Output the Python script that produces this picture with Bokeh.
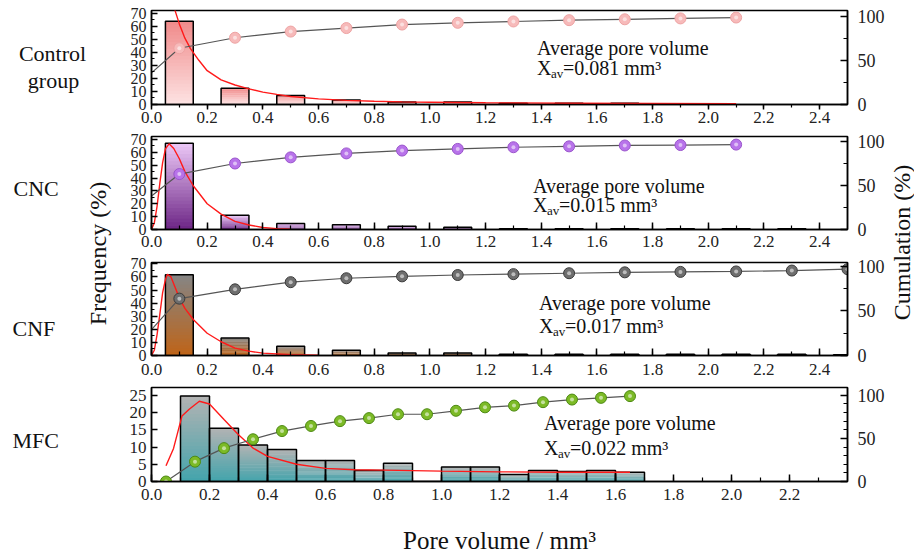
import math
from bokeh.plotting import figure
from bokeh.models import (Range1d, LinearAxis, SingleIntervalTicker,
                          PrintfTickFormatter, Label)
from bokeh.layouts import row, column
from bokeh.embed import file_html
from bokeh.resources import INLINE

FONT = "Liberation Serif"

# ------------------------------------------------------------------ data
row_names = ["Control group", "CNC", "CNF", "MFC"]
avg_volume = ["0.081", "0.015", "0.017", "0.022"]

ctrl_bar_x = [0.1, 0.3, 0.5, 0.7, 0.9, 1.1, 1.3, 1.5, 1.7]
ctrl_freq = [64, 12.5, 7, 3.5, 2, 2, 1, 1, 1]
ctrl_cum_x = [0.1, 0.3, 0.5, 0.7, 0.9, 1.1, 1.3, 1.5, 1.7, 1.9, 2.1]
ctrl_cum = [64, 76, 83, 87, 91, 93, 94.5, 96, 97, 98, 99]
ctrl_cum_start = 36
ctrl_fit_x = [0.08, 0.085, 0.10, 0.12, 0.14, 0.17, 0.20, 0.25, 0.30, 0.35, 0.40,
              0.45, 0.50, 0.60, 0.70, 0.80, 0.90, 1.00, 1.20, 1.50, 1.80, 2.10]
ctrl_fit_y = [80, 72, 62, 51, 43, 34, 26, 19, 15, 12, 9.5,
              7.8, 6.2, 4.3, 3.2, 2.5, 2.0, 1.7, 1.3, 1.0, 0.8, 0.6]

cnc_bar_x = [0.1, 0.3, 0.5, 0.7, 0.9, 1.1, 1.3, 1.5, 1.7, 1.9, 2.1, 2.3]
cnc_freq = [67, 11, 4.7, 3.7, 2.6, 1.8, 0.6, 0.5, 0.5, 0.5, 0.5, 0.5]
cnc_cum_x = [0.1, 0.3, 0.5, 0.7, 0.9, 1.1, 1.3, 1.5, 1.7, 1.9, 2.1]
cnc_cum = [63, 75, 82, 86.5, 89.7, 91.6, 93.5, 94.5, 95.5, 96, 96.5]
cnc_cum_start = 38
cnc_fit_x = [0.0, 0.01, 0.02, 0.03, 0.04, 0.05, 0.063, 0.08, 0.10, 0.12, 0.15,
             0.20, 0.25, 0.30, 0.35, 0.40, 0.45, 0.50]
cnc_fit_y = [0, 5, 18, 36, 52, 62.7, 66.6, 63, 55, 45, 34,
             20, 12, 6.3, 3.5, 1.6, 0.7, 0.3]

cnf_bar_x = [0.1, 0.3, 0.5, 0.7, 0.9, 1.1, 1.3, 1.5, 1.7, 1.9, 2.1, 2.3, 2.5]
cnf_freq = [61.7, 13.4, 7, 4, 2, 2, 1, 1, 1, 1, 1, 1, 0.5]
cnf_cum_x = [0.1, 0.3, 0.5, 0.7, 0.9, 1.1, 1.3, 1.5, 1.7, 1.9, 2.1, 2.3, 2.5]
cnf_cum = [63.6, 74, 82, 86.4, 88.5, 90, 91, 92, 93, 93.5, 94, 95, 96.5]
cnf_cum_start = 29
cnf_fit_x = [0.0, 0.01, 0.02, 0.03, 0.04, 0.05, 0.057, 0.07, 0.085, 0.10, 0.12,
             0.15, 0.20, 0.25, 0.30, 0.35, 0.40, 0.50, 0.60]
cnf_fit_y = [0, 4, 16, 31.6, 48, 58, 62, 60, 52, 44, 36,
             27.5, 17, 10.5, 5.6, 3.3, 1.8, 0.6, 0.3]

mfc_bar_x = [0.15, 0.25, 0.35, 0.45, 0.55, 0.65, 0.75, 0.85, 0.95, 1.05, 1.15,
             1.25, 1.35, 1.45, 1.55, 1.65]
mfc_freq = [24.8, 15.5, 10.6, 9.3, 6.1, 6.1, 3.2, 5.3, 0, 4.2, 4.2,
            2.0, 3.2, 2.9, 3.2, 2.7]
mfc_cum_x = [0.05, 0.15, 0.25, 0.35, 0.45, 0.55, 0.65, 0.75, 0.85, 0.95, 1.05,
             1.15, 1.25, 1.35, 1.45, 1.55, 1.65]
mfc_cum = [0, 23, 38.7, 49, 58.5, 64.4, 70, 73.5, 78, 78, 82,
           86, 88, 92, 95, 97, 99]
mfc_fit_x = [0.05, 0.076, 0.105, 0.13, 0.165, 0.2, 0.25, 0.3, 0.35, 0.4, 0.5,
             0.6, 0.7, 0.8, 1.0, 1.2, 1.4, 1.65]
mfc_fit_y = [4.6, 9.6, 19, 21, 23.3, 22.5, 18, 13.6, 9.7, 7.3, 5.0,
             3.8, 3.4, 3.3, 3.0, 2.8, 2.7, 2.7]

x_title = "Pore volume / mm³"
y_title_left = "Frequency (%)"
y_title_right = "Cumulation (%)"

# ------------------------------------------------------------------ layout
# (the page template has no body margin: page pixels start at 0,0)
FRAME_L, FRAME_R = 151, 848
LEFT_W, RIGHT_W = 123, 27
BL, BR = 28, 39
PW = BL + (FRAME_R - FRAME_L) + BR

panels = [
    dict(name=row_names[0], bar_x=ctrl_bar_x, freq=ctrl_freq, bw=0.1,
         cum_x=ctrl_cum_x, cum=ctrl_cum, cum_start=ctrl_cum_start,
         fit_x=ctrl_fit_x, fit_y=ctrl_fit_y, avg=avg_volume[0],
         c_top="#f08a8a", c_bot="#fde3e3", m_fill="#f7baba", m_line="#eea3a3",
         h=131, t=10, b=27, ftop=10, fbot=104, xmax=2.5, ymax=72.3, rmax=107,
         lint=10, lminor=2, rminor=2, ticks_out=True, xstand=2, lsize="16px",
         txt_x=537, base1=47, base2=67),
    dict(name=row_names[1], bar_x=cnc_bar_x, freq=cnc_freq, bw=0.1,
         cum_x=cnc_cum_x, cum=cnc_cum, cum_start=cnc_cum_start,
         fit_x=cnc_fit_x, fit_y=cnc_fit_y, avg=avg_volume[1],
         c_top="#ecc8f7", c_bot="#6c2585", m_fill="#b873ea", m_line="#9a55cc",
         h=124, t=5, b=26, ftop=136, fbot=229, xmax=2.5, ymax=72.3, rmax=105.7,
         lint=10, lminor=2, rminor=2, ticks_out=False, xstand=6, lsize="16px",
         txt_x=533, base1=185, base2=204),
    dict(name=row_names[2], bar_x=cnf_bar_x, freq=cnf_freq, bw=0.1,
         cum_x=cnf_cum_x, cum=cnf_cum, cum_start=cnf_cum_start,
         fit_x=cnf_fit_x, fit_y=cnf_fit_y, avg=avg_volume[2],
         c_top="#858585", c_bot="#bf6418", m_fill="#6e6e6e", m_line="#3a3a3a",
         h=129, t=7, b=29, ftop=262, fbot=355, xmax=2.5, ymax=71, rmax=104,
         lint=10, lminor=2, rminor=2, ticks_out=False, xstand=8, lsize="16px",
         txt_x=539, base1=302, base2=325),
    dict(name=row_names[3], bar_x=mfc_bar_x, freq=mfc_freq, bw=0.1,
         cum_x=mfc_cum_x, cum=mfc_cum, cum_start=None,
         fit_x=mfc_fit_x, fit_y=mfc_fit_y, avg=avg_volume[3],
         c_top="#b3b3b3", c_bot="#43a4ac", m_fill="#7cba26", m_line="#4d8a12",
         h=173, t=3, b=76, ftop=387, fbot=481, xmax=2.4, ymax=27.3, rmax=109,
         lint=5, lminor=0, rminor=5, ticks_out=False, xstand=7, lsize="17px",
         txt_x=544, base1=422, base2=447),
]
TOT_H = sum(c["h"] for c in panels)


def mix(c1, c2, f):
    a = [int(c1[i:i + 2], 16) for i in (1, 3, 5)]
    b = [int(c2[i:i + 2], 16) for i in (1, 3, 5)]
    return "#%02x%02x%02x" % tuple(round(a[i] + (b[i] - a[i]) * f) for i in range(3))


def style_axis(ax, size):
    ax.axis_line_color = "black"
    ax.axis_line_width = 1.5
    ax.major_tick_line_color = "black"
    ax.major_tick_line_width = 1.5
    ax.minor_tick_line_color = "black"
    ax.minor_tick_line_width = 1.2
    ax.major_label_text_font = FONT
    ax.major_label_text_font_size = size
    ax.major_label_text_color = "#222222"


def make_panel(c):
    p = figure(width=PW, height=c["h"], x_range=Range1d(0, c["xmax"]),
               y_range=Range1d(0, c["ymax"]), output_backend="svg",
               toolbar_location=None, tools="",
               min_border_left=BL, min_border_right=BR,
               min_border_top=c["t"], min_border_bottom=c["b"])
    p.extra_y_ranges = {"cum": Range1d(0, c["rmax"])}
    p.outline_line_color = "black"
    p.outline_line_width = 1.5
    p.grid.visible = False
    p.background_fill_color = "white"
    p.border_fill_color = "white"

    xa = p.xaxis[0]
    xa.ticker = SingleIntervalTicker(interval=0.2, num_minor_ticks=2)
    xa.formatter = PrintfTickFormatter(format="%.1f")
    style_axis(xa, "17px")
    if c["ticks_out"]:
        xa.major_tick_out, xa.major_tick_in = 5, 0
        xa.minor_tick_out, xa.minor_tick_in = 3, 0
    else:
        xa.major_tick_out, xa.major_tick_in = 0, 7
        xa.minor_tick_out, xa.minor_tick_in = 0, 4
    xa.major_label_standoff = c["xstand"]

    ya = p.yaxis[0]
    ya.ticker = SingleIntervalTicker(interval=c["lint"], num_minor_ticks=c["lminor"])
    style_axis(ya, c["lsize"])
    ya.major_tick_out, ya.major_tick_in = 0, 6
    ya.minor_tick_out, ya.minor_tick_in = 0, 3
    ya.major_label_standoff = 5

    ra = LinearAxis(y_range_name="cum",
                    ticker=SingleIntervalTicker(interval=50, num_minor_ticks=c["rminor"]))
    style_axis(ra, "18px")
    ra.major_tick_out, ra.major_tick_in = 0, 7
    ra.minor_tick_out, ra.minor_tick_in = 0, 4
    ra.major_label_standoff = 10
    p.add_layout(ra, "right")

    # gradient-filled bars (slices of each bar), then black outlines
    N = 24
    xs, bots, tops, cols = [], [], [], []
    for xc, v in zip(c["bar_x"], c["freq"]):
        for k in range(N):
            xs.append(xc)
            bots.append(v * k / N)
            tops.append(min(v, v * (k + 1.4) / N))
            cols.append(mix(c["c_bot"], c["c_top"], (k + 0.5) / N))
    p.vbar(x=xs, width=c["bw"], bottom=bots, top=tops, fill_color=cols,
           line_color=None)
    p.vbar(x=c["bar_x"], width=c["bw"], top=c["freq"], fill_color=None,
           line_color="black", line_width=1.5)

    # fitted distribution
    p.line(c["fit_x"], c["fit_y"], line_color="#ff1a1a", line_width=1.4)

    # cumulative curve
    lx, ly = list(c["cum_x"]), list(c["cum"])
    if c["cum_start"] is not None:
        lx = [0.0] + lx
        ly = [c["cum_start"]] + ly
    p.line(lx, ly, y_range_name="cum", line_color="#555555", line_width=1.2)
    p.scatter(c["cum_x"], c["cum"], y_range_name="cum", size=11,
              fill_color=c["m_fill"], line_color=c["m_line"], line_width=1)
    p.scatter(c["cum_x"], c["cum"], y_range_name="cum", size=4,
              fill_color="white", fill_alpha=0.55, line_color=None)

    # annotation text
    fh = c["fbot"] - c["ftop"]
    tx = (c["txt_x"] - FRAME_L) / (FRAME_R - FRAME_L) * c["xmax"]
    y1 = (c["fbot"] - c["base1"]) / fh * c["ymax"]
    y2 = (c["fbot"] - c["base2"]) / fh * c["ymax"]
    p.add_layout(Label(x=tx, y=y1, text="Average pore volume", text_font=FONT,
                       text_font_size="20px", text_baseline="alphabetic",
                       text_color="#111111"))
    p.add_layout(Label(x=tx, y=y2, text="X", text_font=FONT,
                       text_font_size="20px", text_baseline="alphabetic",
                       text_color="#111111"))
    p.add_layout(Label(x=tx, y=y2, x_offset=14, y_offset=-6, text="av",
                       text_font=FONT, text_font_size="13px",
                       text_baseline="alphabetic", text_color="#111111"))
    p.add_layout(Label(x=tx, y=y2, x_offset=26, text="=" + c["avg"] + " mm³",
                       text_font=FONT, text_font_size="20px",
                       text_baseline="alphabetic", text_color="#111111"))
    return p


figs = [make_panel(c) for c in panels]

# x axis title on the last panel's bottom axis
xa4 = figs[3].xaxis[0]
xa4.axis_label = x_title
xa4.axis_label_text_font = FONT
xa4.axis_label_text_font_size = "25px"
xa4.axis_label_text_font_style = "normal"
xa4.axis_label_text_color = "#111111"
xa4.axis_label_standoff = 24

# left strip: row names and the frequency title
lf = figure(width=LEFT_W, height=TOT_H, x_range=Range1d(0, LEFT_W),
            y_range=Range1d(0, TOT_H), output_backend="svg",
            toolbar_location=None, tools="", min_border=0,
            x_axis_location=None, y_axis_location=None)
lf.outline_line_color = None
lf.grid.visible = False


def ly_(py):
    return TOT_H - py


row_label_pos = [(52, 53, "Control", "center"), (53, 80, "group", "center"),
                 (13, 188, row_names[1], "left"), (12, 328, row_names[2], "left"),
                 (12, 440, row_names[3], "left")]
for x, py, t, al in row_label_pos:
    lf.add_layout(Label(x=x, y=ly_(py), text=t, text_font=FONT,
                        text_font_size="22px", text_align=al,
                        text_baseline="alphabetic", text_color="#111111"))
lf.add_layout(Label(x=97, y=ly_(253), text=y_title_left, angle=math.pi / 2,
                    text_font=FONT, text_font_size="24px", text_align="center",
                    text_baseline="middle", text_color="#111111"))

# right strip: cumulation title
rf = figure(width=RIGHT_W, height=TOT_H, x_range=Range1d(0, RIGHT_W),
            y_range=Range1d(0, TOT_H), output_backend="svg",
            toolbar_location=None, tools="", min_border=0,
            x_axis_location=None, y_axis_location=None)
rf.outline_line_color = None
rf.grid.visible = False
rf.add_layout(Label(x=901 - (LEFT_W + PW), y=ly_(242), text=y_title_right,
                    angle=math.pi / 2, text_font=FONT, text_font_size="24px",
                    text_align="center", text_baseline="middle",
                    text_color="#111111"))

layout = row(lf, column(*figs, spacing=0), rf, spacing=0)
open("out.html", "w").write(file_html(layout, INLINE))
